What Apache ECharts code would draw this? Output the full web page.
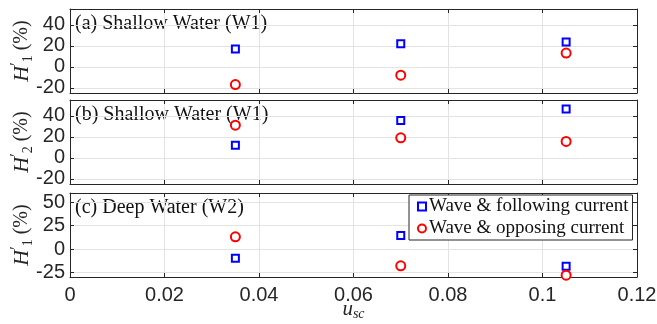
<!DOCTYPE html>
<html><head><meta charset="utf-8">
<script src="https://cdn.jsdelivr.net/npm/echarts@6/dist/echarts.min.js"></script>
<style>html,body{margin:0;padding:0;background:#fff}#c{width:657px;height:324px}</style>
</head><body><div id="c"></div>
<script>
const xValues = [0.035, 0.07, 0.105];
const followA = [17, 22, 23.5];
const opposeA = [-17, -8, 13];
const followB = [12, 35.5, 46.5];
const opposeB = [31, 19, 15.5];
const followC = [-10, 14.5, -18.5];
const opposeC = [13, -18, -28];
const yTicksAB = [-20, 0, 20, 40];
const yTicksC = [-25, 0, 25, 50];
const panelLabels = ['(a) Shallow Water (W1)', '(b) Shallow Water (W1)', '(c) Deep Water (W2)'];
const ySubs = ['1', '2', '1'];
const seriesNames = ['Wave & following current', 'Wave & opposing current'];

const ink = '#262626';
const serif = '"Liberation Serif", "DejaVu Serif", serif';
const sans = '"Liberation Sans", Arial, sans-serif';

const grids = [
  {left: 70, right: 20, top: 9, height: 84, outerBoundsMode: 'none', containLabel: false},
  {left: 70, right: 20, top: 100, height: 84, outerBoundsMode: 'none', containLabel: false},
  {left: 70, right: 20, top: 193, height: 84, outerBoundsMode: 'none', containLabel: false}
];
const yRanges = [[-25, 55], [-25, 55], [-30, 60]];
const yTickSets = [yTicksAB, yTicksAB, yTicksC];
const followSets = [followA, followB, followC];
const opposeSets = [opposeA, opposeB, opposeC];

const xAxes = [], yAxes = [], series = [], graphics = [];
grids.forEach((g, i) => {
  const last = i === 2;
  xAxes.push({
    type: 'value', gridIndex: i, min: 0, max: 0.12, interval: 0.02, position: 'bottom',
    axisLine: {show: true, onZero: false, lineStyle: {color: ink, width: 1}},
    axisTick: {show: true, inside: true, length: 4, lineStyle: {color: ink}},
    axisLabel: {show: last, color: ink, fontFamily: sans, fontSize: 20, margin: 8, hideOverlap: false,
      formatter: v => String(+v.toFixed(2))},
    splitLine: {show: true, lineStyle: {color: '#e3e3e3', width: 1}},
    name: last ? '{u|u}{s|sc}' : '', nameLocation: 'middle', nameGap: 20, nameMoveOverlap: false,
    nameTextStyle: {rich: {
      u: {fontFamily: serif, fontStyle: 'italic', fontSize: 21, color: ink, lineHeight: 24, verticalAlign: 'middle'},
      s: {fontFamily: serif, fontStyle: 'italic', fontSize: 14, color: ink, lineHeight: 12, verticalAlign: 'bottom'}
    }}
  });
  xAxes.push({
    type: 'value', gridIndex: i, min: 0, max: 0.12, interval: 0.02, position: 'top',
    axisLine: {show: true, onZero: false, lineStyle: {color: ink, width: 1}},
    axisTick: {show: true, inside: true, length: 4, lineStyle: {color: ink}},
    axisLabel: {show: false}, splitLine: {show: false}
  });
  const [ymin, ymax] = yRanges[i];
  const ticks = yTickSets[i];
  yAxes.push({
    type: 'value', gridIndex: i, min: ymin, max: ymax, position: 'left',
    axisLine: {show: true, onZero: false, lineStyle: {color: ink, width: 1}},
    axisTick: {show: true, inside: true, length: 4, lineStyle: {color: ink}, customValues: ticks},
    axisLabel: {show: true, color: ink, fontFamily: sans, fontSize: 20, margin: 5, hideOverlap: false, customValues: ticks},
    splitLine: {show: true, lineStyle: {color: '#e3e3e3', width: 1}},
    name: '{h|H}{p|′}{s|' + ySubs[i] + '}{t| (%)}', nameLocation: 'middle', nameRotate: 90, nameGap: 35, nameMoveOverlap: false,
    nameTextStyle: {rich: {
      h: {fontFamily: serif, fontStyle: 'italic', fontSize: 22, color: ink, lineHeight: 26, verticalAlign: 'middle'},
      p: {fontFamily: serif, fontSize: 16, color: ink, lineHeight: 12, verticalAlign: 'top'},
      s: {fontFamily: serif, fontSize: 14, color: ink, lineHeight: 10, verticalAlign: 'bottom'},
      t: {fontFamily: serif, fontSize: 20, color: ink, lineHeight: 26, verticalAlign: 'middle'}
    }}
  });
  yAxes.push({
    type: 'value', gridIndex: i, min: ymin, max: ymax, position: 'right',
    axisLine: {show: true, onZero: false, lineStyle: {color: ink, width: 1}},
    axisTick: {show: true, inside: true, length: 4, lineStyle: {color: ink}, customValues: ticks},
    axisLabel: {show: false}, splitLine: {show: false}
  });
  series.push({
    type: 'scatter', name: seriesNames[0], xAxisIndex: 2 * i, yAxisIndex: 2 * i,
    symbol: 'rect', symbolSize: 7,
    itemStyle: {color: '#ffffff', borderColor: '#0000ff', borderWidth: 2, opacity: 1},
    data: xValues.map((x, k) => [x, followSets[i][k]]), z: 5
  });
  series.push({
    type: 'scatter', name: seriesNames[1], xAxisIndex: 2 * i, yAxisIndex: 2 * i,
    symbol: 'circle', symbolSize: 9,
    itemStyle: {color: '#ffffff', borderColor: '#ff0000', borderWidth: 2, opacity: 1},
    data: xValues.map((x, k) => [x, opposeSets[i][k]]), z: 5
  });
  graphics.push({
    type: 'text', left: 75, top: g.top + 5,
    style: {text: panelLabels[i], font: '20px ' + serif, fill: '#111'}
  });
});

const chart = echarts.init(document.getElementById('c'), null, {renderer: 'canvas'});
chart.setOption({
  animation: false,
  backgroundColor: '#fff',
  grid: grids,
  xAxis: xAxes,
  yAxis: yAxes,
  series: series,
  graphic: graphics,
  legend: {
    left: 409, top: 195, width: 220, orient: 'vertical',
    backgroundColor: '#fff', borderColor: ink, borderWidth: 1, borderRadius: 0,
    padding: [2, 4, 2, 8], itemGap: 3, itemWidth: 8, itemHeight: 8,
    textStyle: {fontFamily: serif, fontSize: 19, color: '#111', padding: [0, 0, 0, -2]},
    data: [
      {name: seriesNames[0], icon: 'rect', itemStyle: {color: '#fff', borderColor: '#0000ff', borderWidth: 2}},
      {name: seriesNames[1], icon: 'circle', itemStyle: {color: '#fff', borderColor: '#ff0000', borderWidth: 2}}
    ]
  }
});
</script></body></html>
